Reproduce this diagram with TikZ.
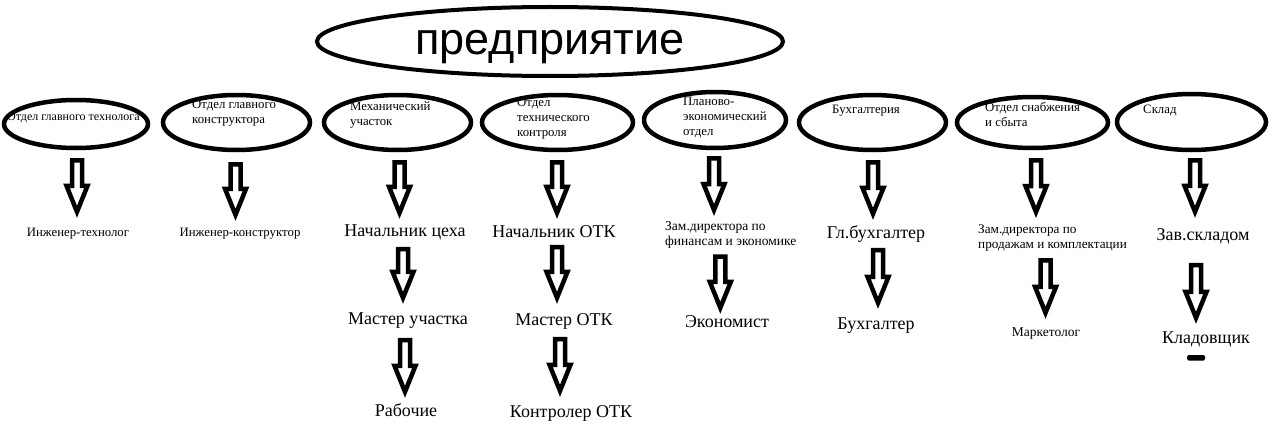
\documentclass[tikz,border=0pt]{standalone}
\usepackage{fontspec}
\setmainfont{Liberation Serif}
\newfontfamily\sansf{Liberation Sans}
\usetikzlibrary{shapes.geometric,calc}

\begin{document}
\begin{tikzpicture}[x=1pt, y=-1pt,
    dept/.style={draw, ellipse, line width=4.5pt, minimum width=147, minimum height=55, inner sep=0},
    note/.style={font=\fontsize{12.8}{15}\selectfont, align=left, anchor=north west, inner sep=0},
    small/.style={font=\fontsize{12.8}{15}\selectfont, inner sep=0, text height=9pt, text depth=3pt},
    big/.style={font=\fontsize{18}{21}\selectfont, inner sep=0, text height=12.5pt, text depth=4.5pt},
    blk/.style={line width=4.5pt, line join=miter, to path={
        let \p1=(\tikztostart), \p2=(\tikztotarget) in
        (\x1-5pt,\y1) -- (\x1+5pt,\y1) -- (\x1+5pt,\y2+26pt) -- (\x1+10.5pt,\y2+26pt)
        -- (\x1,\y2) -- (\x1-10.5pt,\y2+26pt) -- (\x1-5pt,\y2+26pt) -- cycle}}]
    \useasboundingbox (0,0) rectangle (1274,436);

    \node[draw, ellipse, line width=4pt, minimum width=466, minimum height=69, inner sep=0,
        text height=30pt, text depth=3pt, font=\sansf\fontsize{45}{45}\selectfont] (ent) at (550,41.5) {предприятие};

    \node[dept, minimum width=144, minimum height=48] (e1) at (76,124) {};
    \node[dept] (e2) at (236.5,122.5) {};
    \node[dept] (e3) at (397.5,122.5) {};
    \node[dept, minimum width=151] (e4) at (557.5,122.5) {};
    \node[dept, minimum width=142, minimum height=56] (e5) at (715,120) {};
    \node[dept] (e6) at (872.5,122.5) {};
    \node[dept, minimum width=151, minimum height=51] (e7) at (1032.5,122.5) {};
    \node[dept, minimum width=149, minimum height=56] (e8) at (1191.5,122) {};

    \node[note, font=\fontsize{12}{15}\selectfont] (l1) at (7,112.5) {Отдел главного технолога};
    \node[note] (l2) at (192,100) {Отдел главного\\конструктора};
    \node[note] (l3) at (350,102) {Механический\\участок};
    \node[note] (l4) at (517,98) {Отдел\\технического\\контроля};
    \node[note] (l5) at (683,97) {Планово-\\экономический\\отдел};
    \node[note] (l6) at (832,105) {Бухгалтерия};
    \node[note] (l7) at (985,102) {Отдел снабжения\\и сбыта};
    \node[note] (l8) at (1143,105) {Склад};

    \node[small] (t1) at (78,233) {Инженер-технолог};
    \node[small] (t2) at (240,233) {Инженер-конструктор};
    \node[big] (t3) at (405,232) {Начальник цеха};
    \node[big] (t4) at (554,233) {Начальник ОТК};
    \node[note, font=\fontsize{13.5}{15}\selectfont] (t5) at (665,221) {Зам.директора по\\финансам и экономике};
    \node[big] (t6) at (876,234) {Гл.бухгалтер};
    \node[note, font=\fontsize{13.2}{15}\selectfont] (t7) at (978,225) {Зам.директора по\\продажам и комплектации};
    \node[big] (t8) at (1203,236) {Зав.складом};

    \node[big] (t3b) at (408,320) {Мастер участка};
    \node[big] (t3c) at (406,412) {Рабочие};
    \node[big] (t4b) at (564,321) {Мастер ОТК};
    \node[big] (t4c) at (571,413) {Контролер ОТК};
    \node[big] (t5b) at (727,323) {Экономист};
    \node[big] (t6b) at (876,325) {Бухгалтер};
    \node[small, font=\fontsize{13.5}{15}\selectfont] (t7b) at (1046,333) {Маркетолог};
    \node[big] (t8b) at (1206,339) {Кладовщик};

    \draw[blk] ([xshift=1pt,yshift=-10pt]e1.south) to ([yshift=15pt]t1.north);
    \draw[blk] ([xshift=-1pt,yshift=-12pt]e2.south) to ([yshift=12pt]t2.north);
    \draw[blk] ([xshift=2pt,yshift=-10pt]e3.south) to ([yshift=10.5pt]t3.north);
    \draw[blk] ([xshift=-0.5pt,yshift=-10pt]e4.south) to ([yshift=11.5pt]t4.north);
    \draw[blk] ([xshift=-1pt,yshift=-8pt]e5.south) to ([yshift=11pt]t5.north);
    \draw[blk] ([xshift=0.5pt,yshift=-10pt]e6.south) to ([yshift=11.5pt]t6.north);
    \draw[blk] ([xshift=3.5pt,yshift=-10pt]e7.south) to ([yshift=13pt]t7.north);
    \draw[blk] ([xshift=3.5pt,yshift=-8pt]e8.south) to ([yshift=15.5pt]t8.north);

    \draw[blk] ([xshift=-2pt,yshift=-8.5pt]t3.south) to ([yshift=13.5pt]t3b.north);
    \draw[blk] ([xshift=-3pt,yshift=-11.5pt]t3b.south) to ([yshift=11.5pt]t3c.north);
    \draw[blk] ([xshift=3pt,yshift=-5.5pt]t4.south) to ([yshift=14.5pt]t4b.north);
    \draw[blk] ([xshift=-4pt,yshift=-9.5pt]t4b.south) to ([yshift=13.5pt]t4c.north);
    \draw[blk] ([xshift=-10.5pt,yshift=-8.4pt]t5.south) to ([yshift=6.5pt]t5b.north);
    \draw[blk] ([xshift=2pt,yshift=-7.5pt]t6.south) to ([yshift=13.5pt]t6b.north);
    \draw[blk] ([xshift=-7pt,yshift=-8.4pt]t7.south) to ([yshift=14pt]t7b.north);
    \draw[blk] ([xshift=-7pt,yshift=-20.5pt]t8.south) to ([yshift=12.5pt]t8b.north);

    \fill[rounded corners=1.5pt] (1187,355) rectangle (1205,360.5);
\end{tikzpicture}
\end{document}
